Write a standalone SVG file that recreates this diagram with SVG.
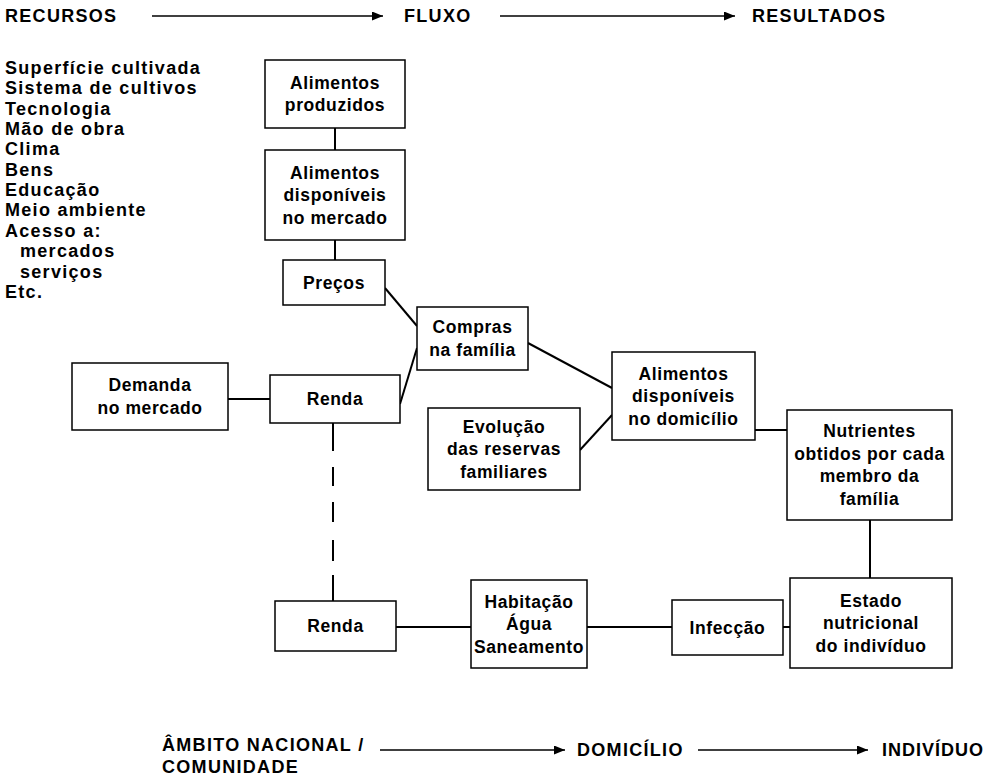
<svg xmlns="http://www.w3.org/2000/svg" width="988" height="778" viewBox="0 0 988 778">
<style>
.t{font-family:"Liberation Sans",Arial,sans-serif;font-weight:bold;font-size:18px;letter-spacing:1.3px;fill:#000}
.b{font-family:"Liberation Sans",Arial,sans-serif;font-weight:bold;font-size:17.5px;letter-spacing:0.6px;fill:#000;text-anchor:middle}
.box{fill:#fff;stroke:#000;stroke-width:1.5}
.ln{stroke:#000;stroke-width:2;fill:none}
.ar{stroke:#000;stroke-width:1.4;fill:none}
</style>
<defs>
<marker id="ah" markerUnits="userSpaceOnUse" markerWidth="12" markerHeight="10" refX="11" refY="4.5" orient="auto">
<path d="M0,0 L11,4.5 L0,9 z" fill="#000"/>
</marker>
</defs>
<rect width="988" height="778" fill="#fff"/>

<g id="header">
<text class="t" x="5" y="22">RECURSOS</text>
<text class="t" x="404" y="22">FLUXO</text>
<text class="t" x="752" y="22">RESULTADOS</text>
<line class="ar" x1="152" y1="16" x2="383" y2="16" marker-end="url(#ah)"/>
<line class="ar" x1="500" y1="16" x2="735" y2="16" marker-end="url(#ah)"/>
</g>

<g id="recursos-list">
<text class="t" x="5" y="74">Superfície cultivada</text>
<text class="t" x="5" y="94">Sistema de cultivos</text>
<text class="t" x="5" y="115">Tecnologia</text>
<text class="t" x="5" y="135">Mão de obra</text>
<text class="t" x="5" y="155">Clima</text>
<text class="t" x="5" y="176">Bens</text>
<text class="t" x="5" y="196">Educação</text>
<text class="t" x="5" y="216">Meio ambiente</text>
<text class="t" x="5" y="237">Acesso a:</text>
<text class="t" x="20" y="257">mercados</text>
<text class="t" x="20" y="278">serviços</text>
<text class="t" x="5" y="298">Etc.</text>
</g>

<g id="connectors">
<line class="ln" x1="335" y1="128" x2="335" y2="150"/>
<line class="ln" x1="335" y1="240" x2="335" y2="260"/>
<line class="ln" x1="228" y1="399" x2="270" y2="399"/>
<line class="ln" x1="385" y1="288" x2="417" y2="326"/>
<line class="ln" x1="400" y1="404" x2="417" y2="348"/>
<line class="ln" x1="528" y1="343" x2="612" y2="388"/>
<line class="ln" x1="580" y1="450" x2="612" y2="415"/>
<line class="ln" x1="755" y1="430" x2="787" y2="430"/>
<line class="ln" x1="870" y1="520" x2="870" y2="578"/>
<path class="ln" d="M333 423 V451 M333 467 V486 M333 502 V522 M333 540 V561 M333 575 V601"/>
<line class="ln" x1="396" y1="627" x2="471" y2="627"/>
<line class="ln" x1="587" y1="627" x2="672" y2="627"/>
<line class="ln" x1="783" y1="627" x2="790" y2="627"/>
</g>

<g id="alimentos-produzidos">
<rect class="box" x="265" y="60" width="140" height="68"/>
<text class="b" x="335" y="88.5">Alimentos</text>
<text class="b" x="335" y="111">produzidos</text>
</g>

<g id="alimentos-mercado">
<rect class="box" x="265" y="150" width="140" height="90"/>
<text class="b" x="335" y="178.5">Alimentos</text>
<text class="b" x="335" y="201">disponíveis</text>
<text class="b" x="335" y="223.5">no mercado</text>
</g>

<g id="precos">
<rect class="box" x="283" y="260" width="102" height="45"/>
<text class="b" x="334" y="288.5">Preços</text>
</g>

<g id="compras">
<rect class="box" x="417" y="307" width="111" height="63"/>
<text class="b" x="472.5" y="333">Compras</text>
<text class="b" x="472.5" y="355.5">na família</text>
</g>

<g id="demanda">
<rect class="box" x="72" y="363" width="156" height="67"/>
<text class="b" x="150" y="391">Demanda</text>
<text class="b" x="150" y="413.5">no mercado</text>
</g>

<g id="renda-1">
<rect class="box" x="270" y="375" width="130" height="48"/>
<text class="b" x="335" y="405">Renda</text>
</g>

<g id="alimentos-domicilio">
<rect class="box" x="612" y="352" width="143" height="88"/>
<text class="b" x="683.5" y="379.5">Alimentos</text>
<text class="b" x="683.5" y="402">disponíveis</text>
<text class="b" x="683.5" y="424.5">no domicílio</text>
</g>

<g id="evolucao">
<rect class="box" x="428" y="408" width="152" height="82"/>
<text class="b" x="504" y="432.5">Evolução</text>
<text class="b" x="504" y="455">das reservas</text>
<text class="b" x="504" y="477.5">familiares</text>
</g>

<g id="nutrientes">
<rect class="box" x="787" y="410" width="165" height="110"/>
<text class="b" x="869.5" y="437">Nutrientes</text>
<text class="b" x="869.5" y="459.5">obtidos por cada</text>
<text class="b" x="869.5" y="482">membro da</text>
<text class="b" x="869.5" y="504.5">família</text>
</g>

<g id="estado">
<rect class="box" x="790" y="578" width="162" height="90"/>
<text class="b" x="871" y="606.5">Estado</text>
<text class="b" x="871" y="629">nutricional</text>
<text class="b" x="871" y="651.5">do indivíduo</text>
</g>

<g id="renda-2">
<rect class="box" x="275" y="601" width="121" height="50"/>
<text class="b" x="335.5" y="632">Renda</text>
</g>

<g id="habitacao">
<rect class="box" x="471" y="580" width="116" height="88"/>
<text class="b" x="529" y="607.5">Habitação</text>
<text class="b" x="529" y="630">Água</text>
<text class="b" x="529" y="652.5">Saneamento</text>
</g>

<g id="infeccao">
<rect class="box" x="672" y="600" width="111" height="55"/>
<text class="b" x="727.5" y="633.5">Infecção</text>
</g>

<g id="footer">
<text class="t" x="162" y="751">ÂMBITO NACIONAL /</text>
<text class="t" x="162" y="773">COMUNIDADE</text>
<text class="t" x="577" y="756">DOMICÍLIO</text>
<text class="t" x="984" y="756" text-anchor="end" style="letter-spacing:1px">INDIVÍDUO</text>
<line class="ar" x1="380" y1="750" x2="565" y2="750" marker-end="url(#ah)"/>
<line class="ar" x1="698" y1="750" x2="868" y2="750" marker-end="url(#ah)"/>
</g>
</svg>
